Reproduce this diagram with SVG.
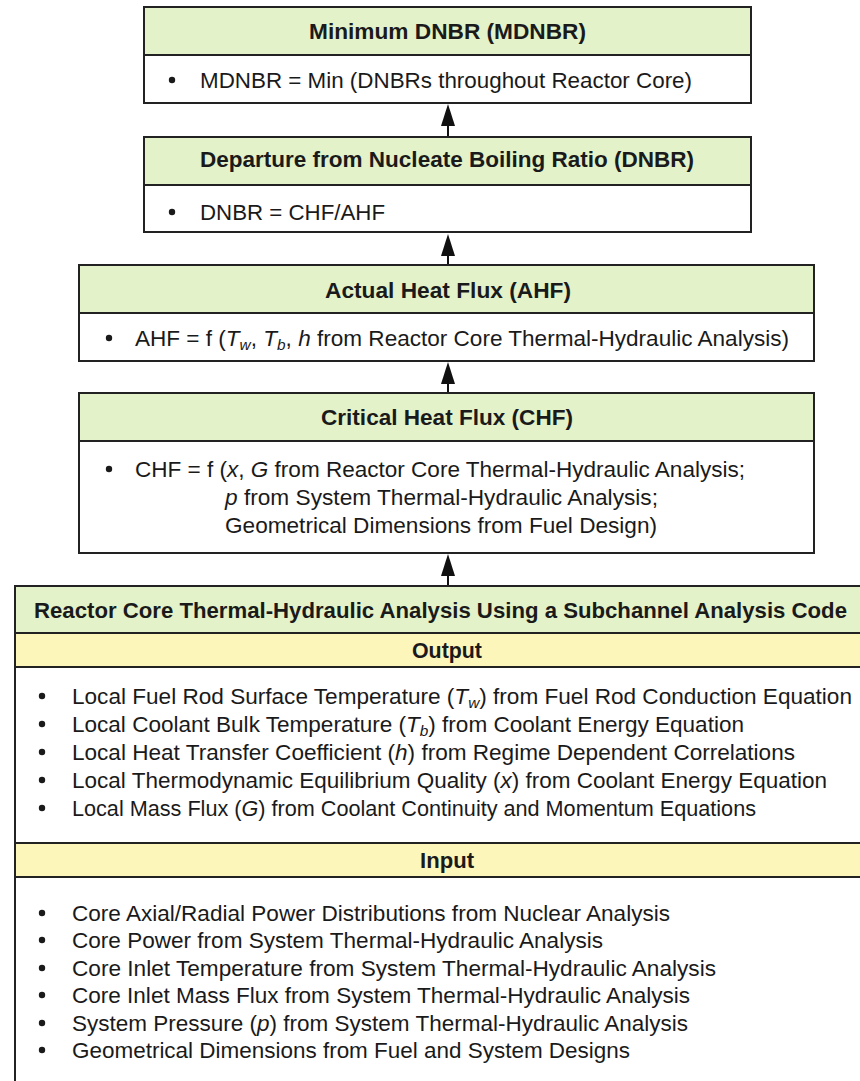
<svg xmlns="http://www.w3.org/2000/svg" width="860" height="1081" viewBox="0 0 860 1081">
<style>
  .box{fill:#ffffff;stroke:#222;stroke-width:2}
  .hdr{fill:#e4f2c9;stroke:#222;stroke-width:2}
  .yel{fill:#fcf6bb;stroke:#222;stroke-width:2}
  text{font-family:"Liberation Sans Narrow","Liberation Sans",Arial,sans-serif;fill:#1a1a1a}
  .t{font-size:22px;font-weight:bold}
  .b{font-size:22px}
  .i{font-style:italic}
  .s{font-size:15px}
  .dot{fill:#1a1a1a}
  .ln{stroke:#111;stroke-width:2;fill:none}
</style>

<g id="connectors">
  <line class="ln" x1="448" y1="137" x2="448" y2="126"/><path d="M441,126 L448,104 L455,126 Z" fill="#111"/>
  <line class="ln" x1="448" y1="265" x2="448" y2="256"/><path d="M441,256 L448,234 L455,256 Z" fill="#111"/>
  <line class="ln" x1="448" y1="393" x2="448" y2="384"/><path d="M441,384 L448,362 L455,384 Z" fill="#111"/>
  <line class="ln" x1="448" y1="586" x2="448" y2="576"/><path d="M441,576 L448,554 L455,576 Z" fill="#111"/>
</g>

<g id="mdnbr">
  <rect class="box" x="144" y="7" width="607" height="96"/>
  <rect class="hdr" x="144" y="7" width="607" height="48"/>
  <text class="t" x="309" y="39" textLength="277" lengthAdjust="spacingAndGlyphs">Minimum DNBR (MDNBR)</text>
  <circle class="dot" cx="172" cy="80" r="3.2"/>
  <text class="b" x="200" y="88" textLength="492" lengthAdjust="spacingAndGlyphs">MDNBR = Min (DNBRs throughout Reactor Core)</text>
</g>

<g id="dnbr">
  <rect class="box" x="144" y="137" width="607" height="95"/>
  <rect class="hdr" x="144" y="137" width="607" height="48"/>
  <text class="t" x="200" y="167" textLength="494" lengthAdjust="spacingAndGlyphs">Departure from Nucleate Boiling Ratio (DNBR)</text>
  <circle class="dot" cx="172" cy="212" r="3.2"/>
  <text class="b" x="200" y="220" textLength="185" lengthAdjust="spacingAndGlyphs">DNBR = CHF/AHF</text>
</g>

<g id="ahf">
  <rect class="box" x="79" y="265" width="735" height="96"/>
  <rect class="hdr" x="79" y="265" width="735" height="48"/>
  <text class="t" x="325" y="298" textLength="246" lengthAdjust="spacingAndGlyphs">Actual Heat Flux (AHF)</text>
  <circle class="dot" cx="109" cy="338" r="3.2"/>
  <text class="b" x="135" y="346" textLength="654" lengthAdjust="spacingAndGlyphs">AHF = f (<tspan class="i">T</tspan><tspan class="i s" dy="4">w</tspan><tspan dy="-4">, </tspan><tspan class="i">T</tspan><tspan class="i s" dy="4">b</tspan><tspan dy="-4">, </tspan><tspan class="i">h</tspan> from Reactor Core Thermal-Hydraulic Analysis)</text>
</g>

<g id="chf">
  <rect class="box" x="79" y="393" width="735" height="160"/>
  <rect class="hdr" x="79" y="393" width="735" height="48"/>
  <text class="t" x="321" y="425" textLength="252" lengthAdjust="spacingAndGlyphs">Critical Heat Flux (CHF)</text>
  <circle class="dot" cx="109" cy="469" r="3.2"/>
  <text class="b" x="135" y="477" textLength="610" lengthAdjust="spacingAndGlyphs">CHF = f (<tspan class="i">x</tspan>, <tspan class="i">G</tspan> from Reactor Core Thermal-Hydraulic Analysis;</text>
  <text class="b" x="225" y="505" textLength="433" lengthAdjust="spacingAndGlyphs"><tspan class="i">p</tspan> from System Thermal-Hydraulic Analysis;</text>
  <text class="b" x="225" y="533" textLength="432" lengthAdjust="spacingAndGlyphs">Geometrical Dimensions from Fuel Design)</text>
</g>

<g id="core">
  <rect class="box" x="15" y="586" width="880" height="510"/>
  <rect class="hdr" x="15" y="586" width="880" height="47"/>
  <rect class="yel" x="15" y="633" width="880" height="34"/>
  <rect class="yel" x="15" y="843" width="880" height="34"/>
  <text class="t" x="34" y="618" textLength="813" lengthAdjust="spacingAndGlyphs">Reactor Core Thermal-Hydraulic Analysis Using a Subchannel Analysis Code</text>
  <text class="t" x="447" y="658" text-anchor="middle" textLength="70" lengthAdjust="spacingAndGlyphs">Output</text>
  <text class="t" x="447" y="868" text-anchor="middle" textLength="54" lengthAdjust="spacingAndGlyphs">Input</text>

  <circle class="dot" cx="42" cy="696" r="3.2"/>
  <text class="b" x="72" y="704" textLength="780" lengthAdjust="spacingAndGlyphs">Local Fuel Rod Surface Temperature (<tspan class="i">T</tspan><tspan class="i s" dy="4">w</tspan><tspan dy="-4">) from Fuel Rod Conduction Equation</tspan></text>
  <circle class="dot" cx="42" cy="724" r="3.2"/>
  <text class="b" x="72" y="732" textLength="672" lengthAdjust="spacingAndGlyphs">Local Coolant Bulk Temperature (<tspan class="i">T</tspan><tspan class="i s" dy="4">b</tspan><tspan dy="-4">) from Coolant Energy Equation</tspan></text>
  <circle class="dot" cx="42" cy="752" r="3.2"/>
  <text class="b" x="72" y="760" textLength="723" lengthAdjust="spacingAndGlyphs">Local Heat Transfer Coefficient (<tspan class="i">h</tspan>) from Regime Dependent Correlations</text>
  <circle class="dot" cx="42" cy="780" r="3.2"/>
  <text class="b" x="72" y="788" textLength="755" lengthAdjust="spacingAndGlyphs">Local Thermodynamic Equilibrium Quality (<tspan class="i">x</tspan>) from Coolant Energy Equation</text>
  <circle class="dot" cx="42" cy="808" r="3.2"/>
  <text class="b" x="72" y="816" textLength="684" lengthAdjust="spacingAndGlyphs">Local Mass Flux (<tspan class="i">G</tspan>) from Coolant Continuity and Momentum Equations</text>

  <circle class="dot" cx="42" cy="913" r="3.2"/>
  <text class="b" x="72" y="921" textLength="598" lengthAdjust="spacingAndGlyphs">Core Axial/Radial Power Distributions from Nuclear Analysis</text>
  <circle class="dot" cx="42" cy="940" r="3.2"/>
  <text class="b" x="72" y="948" textLength="531" lengthAdjust="spacingAndGlyphs">Core Power from System Thermal-Hydraulic Analysis</text>
  <circle class="dot" cx="42" cy="968" r="3.2"/>
  <text class="b" x="72" y="976" textLength="644" lengthAdjust="spacingAndGlyphs">Core Inlet Temperature from System Thermal-Hydraulic Analysis</text>
  <circle class="dot" cx="42" cy="995" r="3.2"/>
  <text class="b" x="72" y="1003" textLength="618" lengthAdjust="spacingAndGlyphs">Core Inlet Mass Flux from System Thermal-Hydraulic Analysis</text>
  <circle class="dot" cx="42" cy="1023" r="3.2"/>
  <text class="b" x="72" y="1031" textLength="616" lengthAdjust="spacingAndGlyphs">System Pressure (<tspan class="i">p</tspan>) from System Thermal-Hydraulic Analysis</text>
  <circle class="dot" cx="42" cy="1050" r="3.2"/>
  <text class="b" x="72" y="1058" textLength="558" lengthAdjust="spacingAndGlyphs">Geometrical Dimensions from Fuel and System Designs</text>
</g>
</svg>
